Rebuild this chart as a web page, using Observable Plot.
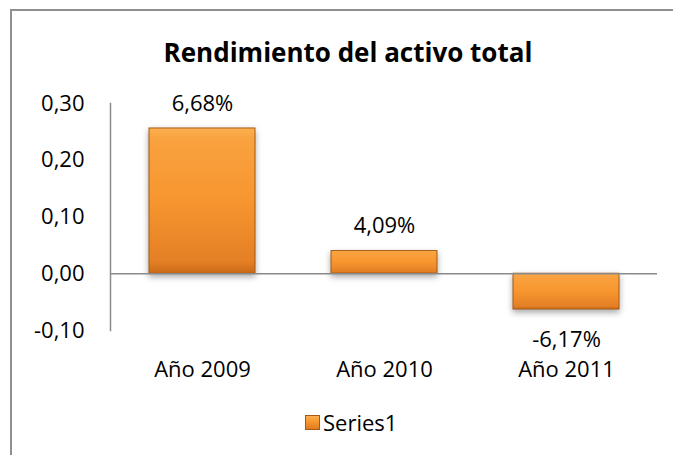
<!DOCTYPE html>
<html>
<head>
<meta charset="utf-8">
<script src="https://cdn.jsdelivr.net/npm/d3@7"></script>
<script src="https://cdn.jsdelivr.net/npm/@observablehq/plot@0.6"></script>
<style>
  html, body { margin: 0; padding: 0; background: #fff; overflow: hidden; }
  #wrap { position: relative; width: 673px; height: 455px; overflow: hidden; font-family: "Open Sans", sans-serif; }
  #border { position: absolute; left: 10px; top: 9px; width: 700px; height: 500px; border: 2px solid #8f8f8f; box-sizing: border-box; }
  #title { position: absolute; left: 0; width: 696px; top: 34px; text-align: center; font-weight: 700; font-size: 26px; color: #000; white-space: nowrap; }
  #chart { position: absolute; left: 0; top: 0; }
  #legend { position: absolute; left: 305px; top: 407px; font-size: 22px; color: #000; display: flex; align-items: center; }
  #legend .sw { width: 15px; height: 15px; margin-right: 3px; box-sizing: border-box; border: 1px solid #a85a14;
     background: linear-gradient(to bottom, #fbb050 0%, #f7962f 45%, #e07b22 100%); }
  #chart rect.bar { filter: drop-shadow(0px 3px 3px rgba(0,0,0,0.35)); }
</style>
</head>
<body>
<div id="wrap">
  <div id="border"></div>
  <div id="title">Rendimiento del activo total</div>
  <div id="chart"></div>
  <div id="legend"><div class="sw"></div><span>Series1</span></div>
</div>
<script>
const categories = ["Año 2009", "Año 2010", "Año 2011"];
const values = [0.256, 0.040, -0.063];
const valueLabels = ["6,68%", "4,09%", "-6,17%"];
const yTicks = [-0.10, 0.00, 0.10, 0.20, 0.30];

const data = categories.map((c, i) => ({cat: c, value: values[i], label: valueLabels[i]}));

const svg = Plot.plot({
  width: 673,
  height: 455,
  marginLeft: 110,
  marginRight: 16,
  marginTop: 103,
  marginBottom: 125,
  style: {fontFamily: "'Open Sans', sans-serif", fontSize: "22px", color: "#000", background: "transparent"},
  x: {domain: categories, paddingInner: 0.42, paddingOuter: 0.21, label: null},
  y: {domain: [-0.1, 0.3], label: null},
  marks: [
    Plot.axisY({ticks: yTicks, tickSize: 0, tickPadding: 26, tickFormat: d => d.toFixed(2).replace(".", ","), label: null, fill: "#000", fontSize: 22}),
    Plot.axisX({tickSize: 0, tickPadding: 31, label: null, fill: "#000", fontSize: 22}),
    Plot.frame({anchor: "left", stroke: "#8a8a8a", strokeWidth: 1.5}),
    Plot.barY(data, {x: "cat", y: "value", fill: "url(#barGrad)", stroke: "#a85a14", strokeWidth: 1}),
    Plot.ruleY([0], {stroke: "#8a8a8a", strokeWidth: 1.5}),
    Plot.text(data, {x: "cat", y: "value", text: "label", fill: "#000", lineAnchor: "middle", fontSize: 22,
      filter: d => d.value >= 0, dy: -25}),
    Plot.text(data, {x: "cat", y: "value", text: "label", fill: "#000", lineAnchor: "middle", fontSize: 22,
      filter: d => d.value < 0, dy: 30})
  ]
});

svg.insertAdjacentHTML("afterbegin",
  '<defs><linearGradient id="barGrad" x1="0" y1="0" x2="0" y2="1">' +
  '<stop offset="0%" stop-color="#fbb050"/>' +
  '<stop offset="8%" stop-color="#f9a23f"/>' +
  '<stop offset="50%" stop-color="#f7962f"/>' +
  '<stop offset="92%" stop-color="#e47f25"/>' +
  '<stop offset="100%" stop-color="#c96a18"/>' +
  '</linearGradient></defs>');
svg.querySelectorAll("g[aria-label='bar'] rect").forEach(r => r.classList.add("bar"));

document.getElementById("chart").appendChild(svg);
</script>
</body>
</html>
